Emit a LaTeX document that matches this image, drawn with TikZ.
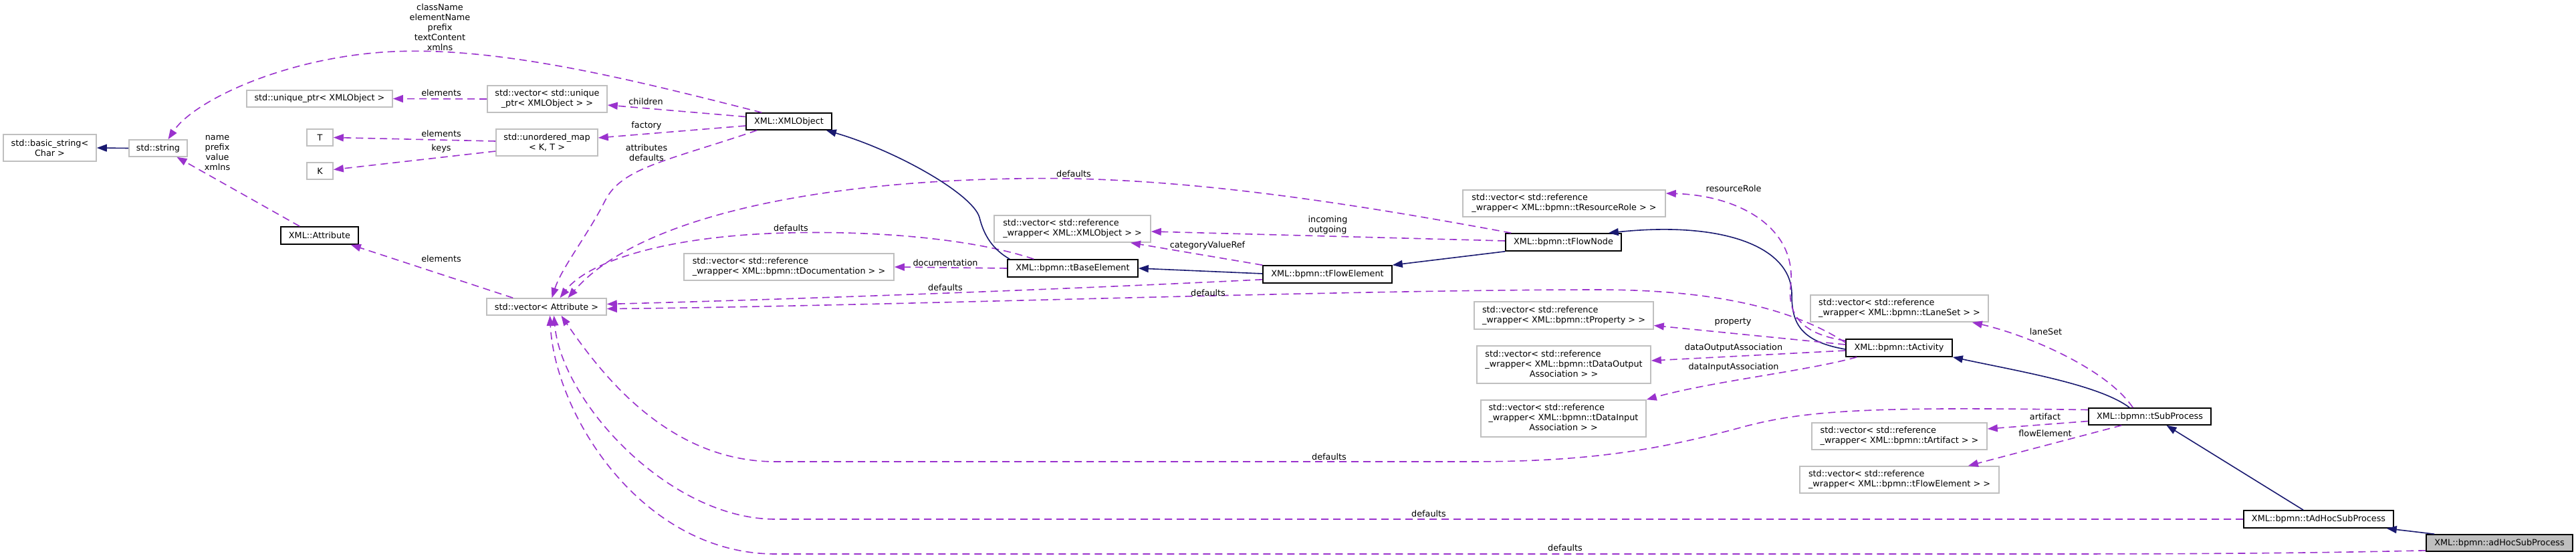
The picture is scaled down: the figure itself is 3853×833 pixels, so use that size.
\documentclass[tikz,border=0pt]{standalone}
\usepackage{fontspec}
\setmainfont{DejaVu Sans}
\usetikzlibrary{arrows.meta,calc}
\definecolor{usecol}{HTML}{9A32CD}
\definecolor{inhcol}{HTML}{191970}
\definecolor{boxgray}{HTML}{BFBFBF}
\begin{document}
\begin{tikzpicture}[x=1pt,y=-1pt,
  every node/.style={font=\fontsize{12.8}{15}\selectfont},
  gbox/.style={rectangle,draw=boxgray,line width=1.6pt,fill=white,inner sep=0pt},
  cls/.style={gbox,draw=black},
  rootbox/.style={gbox,draw=black,fill=boxgray},
  usedge/.style={draw=usecol,line width=1.6pt,dash pattern=on 11pt off 7pt,-{Triangle[length=15pt,width=11pt]}},
  inhedge/.style={draw=inhcol,line width=1.6pt,-{Triangle[length=15pt,width=11pt]}},
  lbl/.style={inner sep=0pt,align=center}]
\useasboundingbox (0,0) rectangle (3853,833);
% nodes
\node[gbox,minimum width=139pt,minimum height=40pt,align=center] (bs) at (74.5,221) {std::basic\_string<\\Char >};
\node[gbox,minimum width=87pt,minimum height=25pt] (str) at (236.5,221.5) {std::string};
\node[gbox,minimum width=218pt,minimum height=25pt] (up) at (478,147.5) {std::unique\_ptr< XMLObject >};
\node[gbox,minimum width=39pt,minimum height=25pt] (T) at (478.5,205.5) {T};
\node[gbox,minimum width=39pt,minimum height=25pt] (K) at (478.5,255.5) {K};
\node[cls,minimum width=116pt,minimum height=26pt] (attr) at (478,352) {XML::Attribute};
\node[gbox,minimum width=179pt,minimum height=40pt,align=center] (vup) at (818.5,148) {std::vector< std::unique\\\_ptr< XMLObject > >};
\node[gbox,minimum width=152pt,minimum height=40pt,align=center] (umap) at (818,213) {std::unordered\_map\\< K, T >};
\node[cls,minimum width=128pt,minimum height=25pt] (xo) at (1180,181.5) {XML::XMLObject};
\node[gbox,minimum width=314pt,minimum height=40pt,align=left] (vdoc) at (1180,399) {std::vector< std::reference\\\_wrapper< XML::bpmn::tDocumentation > >};
\node[gbox,minimum width=179pt,minimum height=25pt] (va) at (817.5,458.5) {std::vector< Attribute >};
\node[cls,minimum width=195pt,minimum height=26pt] (be) at (1604.5,401) {XML::bpmn::tBaseElement};
\node[gbox,minimum width=234pt,minimum height=40pt,align=left] (vxo) at (1604,342) {std::vector< std::reference\\\_wrapper< XML::XMLObject > >};
\node[cls,minimum width=193pt,minimum height=26pt] (fe) at (1985.5,410) {XML::bpmn::tFlowElement};
\node[cls,minimum width=173pt,minimum height=26pt] (fn) at (2338.5,362) {XML::bpmn::tFlowNode};
\node[gbox,minimum width=303pt,minimum height=40pt,align=left] (vrr) at (2339.5,304) {std::vector< std::reference\\\_wrapper< XML::bpmn::tResourceRole > >};
\node[gbox,minimum width=268pt,minimum height=41pt,align=left] (vprop) at (2339,471.5) {std::vector< std::reference\\\_wrapper< XML::bpmn::tProperty > >};
\node[gbox,minimum width=260pt,minimum height=56pt] (vdo) at (2339,545) {\begin{tabular}{@{}l@{}}std::vector< std::reference\\\_wrapper< XML::bpmn::tDataOutput\\\multicolumn{1}{@{}c@{}}{Association > >}\end{tabular}};
\node[gbox,minimum width=247pt,minimum height=55pt] (vdi) at (2338.5,625.5) {\begin{tabular}{@{}l@{}}std::vector< std::reference\\\_wrapper< XML::bpmn::tDataInput\\\multicolumn{1}{@{}c@{}}{Association > >}\end{tabular}};
\node[cls,minimum width=159pt,minimum height=26pt] (act) at (2840.5,520) {XML::bpmn::tActivity};
\node[gbox,minimum width=266pt,minimum height=40pt,align=left] (vls) at (2841,461) {std::vector< std::reference\\\_wrapper< XML::bpmn::tLaneSet > >};
\node[gbox,minimum width=262pt,minimum height=40pt,align=left] (vart) at (2841,652) {std::vector< std::reference\\\_wrapper< XML::bpmn::tArtifact > >};
\node[gbox,minimum width=298pt,minimum height=40pt,align=left] (vfe) at (2841,717) {std::vector< std::reference\\\_wrapper< XML::bpmn::tFlowElement > >};
\node[cls,minimum width=183pt,minimum height=25pt] (sp) at (3215.5,622.5) {XML::bpmn::tSubProcess};
\node[cls,minimum width=224pt,minimum height=26pt] (ahs) at (3468,776) {XML::bpmn::tAdHocSubProcess};
\node[rootbox,minimum width=219pt,minimum height=25pt] (root) at (3738.5,811.5) {XML::bpmn::adHocSubProcess};
% edges
\draw[usedge] ($(xo.north west)+(24,0)$) .. controls (950,120) and (750,70) .. (590,77) .. controls (430,84) and (290,150) .. ($(str.north)+(15,0)$);
\draw[usedge] (vup.west) -- (up.east);
\draw[usedge] ($(xo.west)+(0,-7)$) -- ($(vup.east)+(0,9)$);
\draw[usedge] ($(xo.west)+(0,6.5)$) -- ($(umap.east)+(0,-7)$);
\draw[usedge] ($(umap.west)+(0,-2)$) -- (T.east);
\draw[usedge] ($(umap.west)+(0,13)$) -- ($(K.east)+(0,-2)$);
\draw[usedge] ($(attr.north west)+(29,0)$) -- ($(str.south)+(28,0)$);
\draw[usedge] ($(va.north west)+(40,0)$) -- ($(attr.south east)+(-12,0)$);
\draw[usedge] ($(xo.south west)+(17,0)$) .. controls (1000,240) and (930,250) .. (905,300) .. controls (880,350) and (840,400) .. ($(va.north)+(8,0)$);
\draw[usedge] ($(be.north west)+(40,0)$) .. controls (1450,355) and (1300,345) .. (1180,348) .. controls (1000,352) and (880,390) .. ($(va.north)+(20,0)$);
\draw[usedge] ($(fn.north west)+(9,0)$) .. controls (2000,300) and (1750,262) .. (1520,267) .. controls (1200,272) and (950,330) .. ($(va.north)+(32,0)$);
\draw[usedge] ($(fe.south west)+(0,-6)$) .. controls (1600,432) and (1200,447) .. ($(va.east)+(0,-4)$);
\draw[usedge] ($(act.west)+(0,-8)$) .. controls (2680,460) and (2560,433) .. (2390,433) .. controls (2000,433) and (1300,458) .. ($(va.east)+(0,3)$);
\draw[usedge] (be.west) -- (vdoc.east);
\draw[inhedge] ($(fe.west)+(0,-1)$) -- (be.east);
\draw[usedge] (fe.north west) -- ($(vxo.south)+(87,0)$);
\draw[usedge] ($(fn.west)+(0,-2)$) -- ($(vxo.east)+(0,4)$);
\draw[inhedge] (fn.south west) -- (fe.north east);
\draw[inhedge] ($(be.north west)+(4,0)$) .. controls (1480,370) and (1470,345) .. (1465,325) .. controls (1455,290) and (1340,225) .. ($(xo.south east)+(-9,0)$);
\draw[inhedge] ($(act.west)+(0,2)$) .. controls (2690,510) and (2680,480) .. (2680,440) .. controls (2680,370) and (2580,330) .. ($(fn.north east)+(-20,0)$);
\draw[usedge] ($(act.north west)+(0,3)$) .. controls (2700,500) and (2674,475) .. (2678,430) .. controls (2690,340) and (2600,292) .. ($(vrr.east)+(0,-15)$);
\draw[usedge] ($(act.west)+(0,-5)$) -- ($(vprop.east)+(0,15)$);
\draw[usedge] ($(act.west)+(0,4)$) -- ($(vdo.east)+(0,-6)$);
\draw[usedge] ($(act.south west)+(17,0)$) .. controls (2700,555) and (2560,570) .. (vdi.north east);
\draw[inhedge] ($(sp.north west)+(62,0)$) .. controls (3140,575) and (3020,555) .. (act.south east);
\draw[usedge] ($(sp.north west)+(67,0)$) .. controls (3150,550) and (3030,500) .. ($(vls.south east)+(-25,0)$);
\draw[usedge] ($(sp.west)+(0,-10)$) .. controls (2800,608) and (2700,612) .. (2600,640) .. controls (2480,672) and (2380,690) .. (2200,690) -- (1160,690) .. controls (1000,690) and (900,560) .. ($(va.south)+(22,0)$);
\draw[usedge] ($(sp.west)+(0,7)$) -- ($(vart.east)+(0,-11)$);
\draw[usedge] ($(sp.south west)+(50,0)$) -- ($(vfe.north east)+(-47,0)$);
\draw[inhedge] ($(ahs.north)+(-23,0)$) -- ($(sp.south)+(25,0)$);
\draw[usedge] (ahs.west) -- (1160,776) .. controls (1000,776) and (840,600) .. ($(va.south)+(11,0)$);
\draw[usedge] ($(root.south west)+(0,-2)$) .. controls (3400,828) and (3200,828) .. (3000,828) -- (1160,828) .. controls (960,828) and (830,620) .. ($(va.south)+(5,0)$);
\draw[inhedge] ($(root.north west)+(13,0)$) -- ($(ahs.south east)+(-11,0)$);
\draw[inhedge] (str.west) -- (bs.east);
% labels
\node[lbl] (l1) at (658,41) {className\\elementName\\prefix\\textContent\\xmlns};
\node[lbl] (l2) at (660,139) {elements};
\node[lbl] (l3) at (966,152) {children};
\node[lbl] (l4) at (967,188) {factory};
\node[lbl] (l5) at (967,228) {attributes\\defaults};
\node[lbl] (l6) at (660,200) {elements};
\node[lbl] (l7) at (660,222) {keys};
\node[lbl] (l8) at (325,229) {name\\prefix\\value\\xmlns};
\node[lbl] (l9) at (660,387) {elements};
\node[lbl] (l10) at (1183,341) {defaults};
\node[lbl] (l11) at (1606,260) {defaults};
\node[lbl] (l12) at (1414,393) {documentation};
\node[lbl] (l13) at (1806,367) {categoryValueRef};
\node[lbl] (l14) at (1986,336) {incoming\\outgoing};
\node[lbl] (l15) at (1414,430) {defaults};
\node[lbl] (l16) at (1807,438) {defaults};
\node[lbl] (l17) at (2593,282) {resourceRole};
\node[lbl] (l18) at (2592,481) {property};
\node[lbl] (l19) at (2593,520) {dataOutputAssociation};
\node[lbl] (l20) at (2593,549) {dataInputAssociation};
\node[lbl] (l21) at (3060,496) {laneSet};
\node[lbl] (l22) at (3059,623) {artifact};
\node[lbl] (l23) at (3059,648) {flowElement};
\node[lbl] (l24) at (1988,683) {defaults};
\node[lbl] (l25) at (2137,768) {defaults};
\node[lbl] (l26) at (2341,819) {defaults};
\end{tikzpicture}
\end{document}
